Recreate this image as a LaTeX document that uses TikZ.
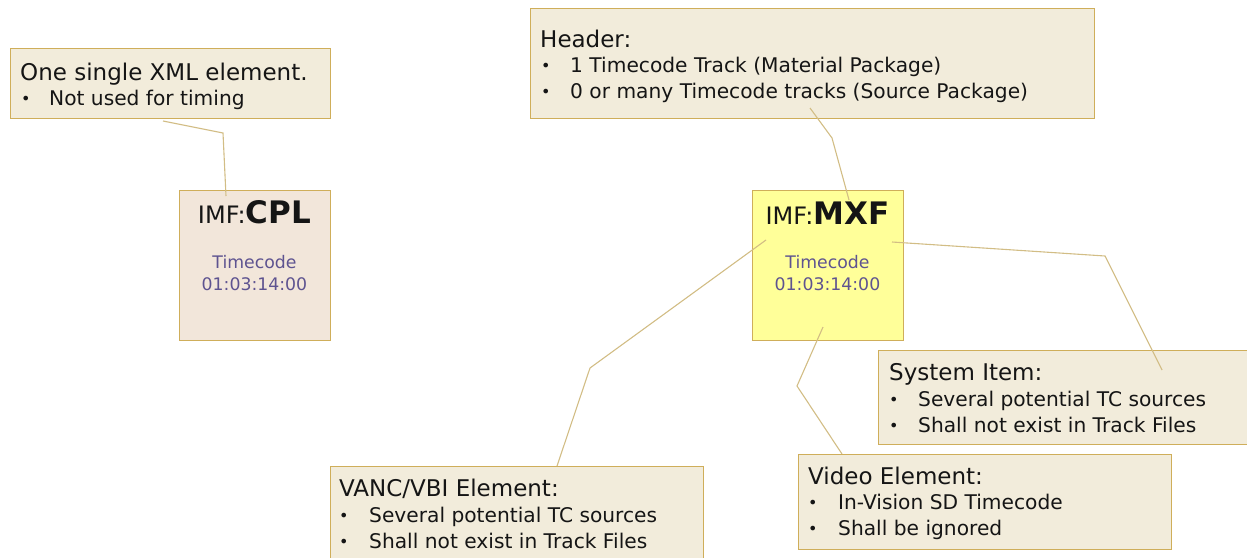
\documentclass[tikz,border=0pt]{standalone}
\usepackage{fontspec}
\setmainfont{DejaVu Sans}
\usetikzlibrary{calc}
\definecolor{boxfill}{HTML}{F2ECDB}
\definecolor{boxline}{HTML}{CFAE5A}
\definecolor{cplfill}{HTML}{F2E6DA}
\definecolor{mxffill}{HTML}{FFFF99}
\definecolor{conncol}{HTML}{D2BD85}
\definecolor{tccol}{HTML}{5E5390}
\definecolor{txt}{HTML}{151515}
\tikzset{
  notebox/.style={draw=boxline, fill=boxfill, line width=1pt, rectangle, inner sep=0pt, anchor=north west},
  cplbox/.style={notebox, fill=cplfill, minimum width=151pt, minimum height=150pt},
  mxfbox/.style={notebox, fill=mxffill, minimum width=151pt, minimum height=150pt},
  ttl/.style={anchor=base west, inner sep=0pt, text=txt, font=\fontsize{23}{26}\selectfont},
  itm/.style={anchor=base west, inner sep=0pt, text=txt, font=\fontsize{20.2}{24}\selectfont},
  bul/.style={anchor=base west, inner sep=0pt, text=txt, font=\fontsize{16}{20}\selectfont},
  tc/.style={anchor=base, inner sep=0pt, text=tccol, font=\fontsize{17.3}{21}\selectfont},
  conn/.style={draw=conncol, line width=1.1pt},
}
\begin{document}
\begin{tikzpicture}[x=1pt,y=-1pt]
\useasboundingbox (0,0) rectangle (1247,557);

% CPL note
\node[notebox, minimum width=320pt, minimum height=70pt] (n1) at (10,48) {};
\node[ttl] (n1t) at ($(n1.north west)+(10,32)$) {One single XML element.};
\node[bul] (n1b) at ($(n1.north west)+(11,56)$) {•};
\node[itm] (n1i) at ($(n1.north west)+(39,57)$) {Not used for timing};

% CPL box
\node[cplbox] (cpl) at (179,190) {};
\node[anchor=base, inner sep=0pt, text=txt] (cplt) at ($(cpl.north west)+(75.5,33)$) {{\fontsize{24}{28}\selectfont IMF:}{\fontsize{31}{34}\selectfont\bfseries CPL}};
\node[tc] (cpl1) at ($(cpl.north west)+(75.5,78)$) {Timecode};
\node[tc] (cpl2) at ($(cpl.north west)+(75.5,100)$) {01:03:14:00};

% Header
\node[notebox, minimum width=564pt, minimum height=110pt] (hdr) at (530,8) {};
\node[ttl] (hdrt) at ($(hdr.north west)+(10,39)$) {Header:};
\node[bul] (hdrb1) at ($(hdr.north west)+(11,63)$) {•};
\node[itm] (hdri1) at ($(hdr.north west)+(40,64)$) {1 Timecode Track (Material Package)};
\node[bul] (hdrb2) at ($(hdr.north west)+(11,89)$) {•};
\node[itm] (hdri2) at ($(hdr.north west)+(40,90)$) {0 or many Timecode tracks (Source Package)};

% MXF box
\node[mxfbox] (mxf) at (752,190) {};
\node[anchor=base, inner sep=0pt, text=txt] (mxft) at ($(mxf.north west)+(75.5,34)$) {{\fontsize{24}{28}\selectfont IMF:}{\fontsize{31}{34}\selectfont\bfseries MXF}};
\node[tc] (mxf1) at ($(mxf.north west)+(75.5,78)$) {Timecode};
\node[tc] (mxf2) at ($(mxf.north west)+(75.5,100)$) {01:03:14:00};

% System Item
\node[notebox, minimum width=369pt, minimum height=94pt] (sys) at (878,350) {};
\node[ttl] (syst) at ($(sys.north west)+(11,30)$) {System Item:};
\node[bul] (sysb1) at ($(sys.north west)+(11,55)$) {•};
\node[itm] (sysi1) at ($(sys.north west)+(40,56)$) {Several potential TC sources};
\node[bul] (sysb2) at ($(sys.north west)+(11,81)$) {•};
\node[itm] (sysi2) at ($(sys.north west)+(40,82)$) {Shall not exist in Track Files};

% VANC/VBI
\node[notebox, minimum width=373pt, minimum height=100pt] (vanc) at (330,466) {};
\node[ttl] (vanct) at ($(vanc.north west)+(9,30)$) {VANC/VBI Element:};
\node[bul] (vancb1) at ($(vanc.north west)+(9,55)$) {•};
\node[itm] (vanci1) at ($(vanc.north west)+(39,56)$) {Several potential TC sources};
\node[bul] (vancb2) at ($(vanc.north west)+(9,81)$) {•};
\node[itm] (vanci2) at ($(vanc.north west)+(39,82)$) {Shall not exist in Track Files};

% Video Element
\node[notebox, minimum width=373pt, minimum height=95pt] (vid) at (798,454) {};
\node[ttl] (vidt) at ($(vid.north west)+(10,30)$) {Video Element:};
\node[bul] (vidb1) at ($(vid.north west)+(10,54)$) {•};
\node[itm] (vidi1) at ($(vid.north west)+(40,55)$) {In-Vision SD Timecode};
\node[bul] (vidb2) at ($(vid.north west)+(10,80)$) {•};
\node[itm] (vidi2) at ($(vid.north west)+(40,81)$) {Shall be ignored};

% connectors
\coordinate (k1) at (223,133);
\coordinate (k2) at (832,138);
\coordinate (k3) at (590,368);
\coordinate (k4) at (797,386);
\coordinate (k5) at (1105,256);
\draw[conn] ($(n1.south west)+(153,2)$) -- (k1) -- ($(cpl.north west)+(47,6)$);
\draw[conn] ($(hdr.south west)+(280,-11)$) -- (k2) -- ($(mxf.north west)+(97,10)$);
\draw[conn] ($(mxf.north west)+(14,50)$) -- (k3) -- ($(vanc.north west)+(227,0)$);
\draw[conn] ($(mxf.north west)+(71,137)$) -- (k4) -- ($(vid.north west)+(44,0)$);
\draw[conn] ($(mxf.north west)+(140,52)$) -- (k5) -- ($(sys.north west)+(284,20)$);
\end{tikzpicture}
\end{document}
